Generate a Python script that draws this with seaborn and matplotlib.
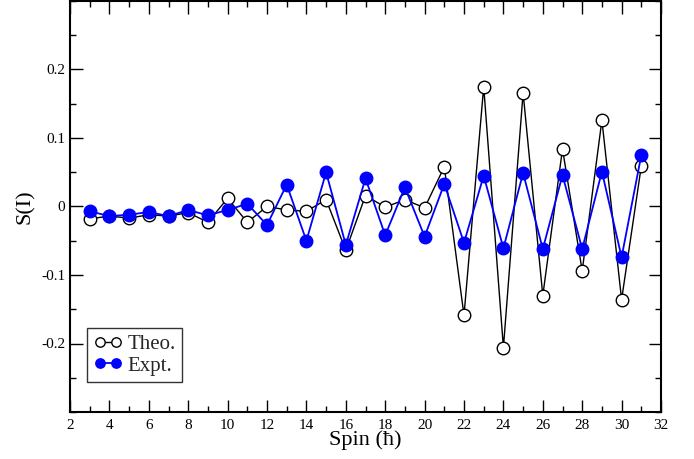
import matplotlib
matplotlib.use("Agg")
import matplotlib.pyplot as plt
import seaborn as sns
import numpy as np
from matplotlib.ticker import MultipleLocator

spins = [3, 4, 5, 6, 7, 8, 9, 10, 11, 12, 13, 14, 15, 16, 17, 18, 19, 20, 21, 22, 23, 24, 25, 26, 27, 28, 29, 30, 31]
theo = [-0.018, -0.014, -0.017, -0.012, -0.014, -0.009, -0.023, 0.012, -0.023, 0.000,
        -0.005, -0.007, 0.010, -0.064, 0.016, -0.001, 0.010, -0.002, 0.058, -0.159,
        0.175, -0.206, 0.166, -0.130, 0.084, -0.094, 0.126, -0.136, 0.059]
expt = [-0.007, -0.014, -0.012, -0.008, -0.014, -0.005, -0.013, -0.005, 0.004, -0.027,
        0.032, -0.050, 0.050, -0.056, 0.041, -0.042, 0.028, -0.044, 0.033, -0.053,
        0.045, -0.061, 0.049, -0.062, 0.046, -0.062, 0.051, -0.074, 0.075]
xticks = list(range(2, 33, 2))
yticks = [-0.2, -0.1, 0.0, 0.1, 0.2]
ytick_labels = ["-0.2", "-0.1", "0", "0.1", "0.2"]

sns.set_style("ticks")
plt.rcParams['font.family'] = ['Liberation Serif', 'DejaVu Serif']

fig = plt.figure(figsize=(6.94, 4.59), dpi=100)
ax = fig.add_axes([70/694, 1 - 412/459, 591/694, 411/459])

sns.lineplot(x=spins, y=theo, ax=ax, color='black', linewidth=1.0, marker='o',
             markersize=9, markerfacecolor='white', markeredgecolor='black',
             markeredgewidth=1.0, label='Theo.')
sns.lineplot(x=spins, y=expt, ax=ax, color='#0000ff', linewidth=1.3, marker='o',
             markersize=9, markerfacecolor='#0000ff', markeredgecolor='#0000ff',
             markeredgewidth=1.0, label='Expt.')

ax.set_xlim(2, 32)
ax.set_ylim(-0.3, 0.3)
ax.set_xticks(xticks)
ax.set_xticklabels([str(t) for t in xticks])
ax.set_yticks(yticks)
ax.set_yticklabels(ytick_labels)
ax.xaxis.set_minor_locator(MultipleLocator(1))
ax.yaxis.set_minor_locator(MultipleLocator(0.05))
ax.tick_params(which='both', direction='in', top=True, right=True, color='black',
               labelsize=11, labelcolor='black', width=1.0)
ax.tick_params(which='major', length=9)
ax.tick_params(which='minor', length=4.5)
ax.tick_params(axis='x', pad=5)
for s in ax.spines.values():
    s.set_visible(True)
    s.set_color('black')
    s.set_linewidth(1.5)

ax.set_xlabel("Spin (ħ)", fontsize=16, labelpad=-1, color='black')
ax.set_ylabel("S(I)", fontsize=16, labelpad=4, color='black')

leg = ax.legend(loc='lower left', bbox_to_anchor=(0.029, 0.073), borderaxespad=0,
                fontsize=15, frameon=True, fancybox=False, edgecolor='black',
                numpoints=2, handlelength=1.4, handletextpad=0.25, borderpad=0.3,
                labelspacing=0.1, markerscale=0.75)
leg.get_frame().set_linewidth(1.0)

fig.savefig("out.png", dpi=100)
